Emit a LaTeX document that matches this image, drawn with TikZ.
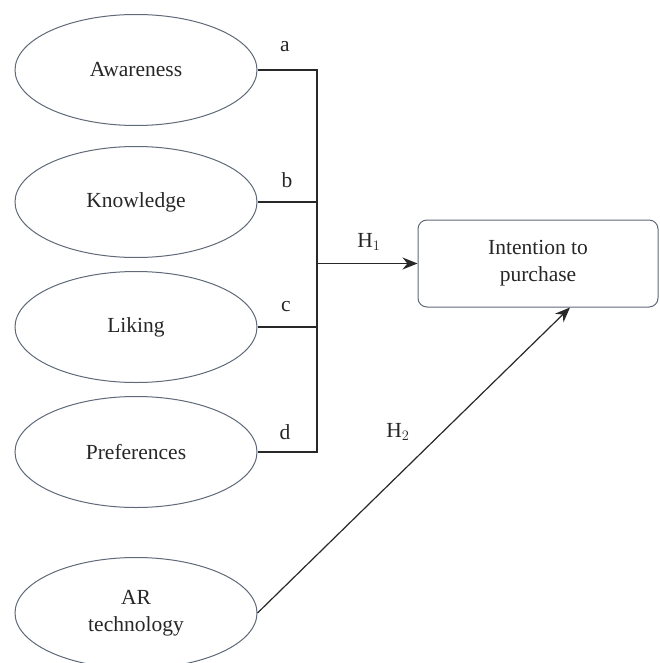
\documentclass[tikz,border=0pt]{standalone}
\usepackage{fontspec}
\setmainfont{Liberation Serif}
\usetikzlibrary{shapes.geometric,arrows.meta,calc}
\definecolor{edgec}{RGB}{95,105,120}
\definecolor{linec}{RGB}{40,40,40}
\begin{document}
\begin{tikzpicture}[x=1pt,y=-1pt,
  every node/.style={font=\fontsize{21.5}{27}\selectfont, text=black!85},
  oval/.style={ellipse, draw=edgec, line width=1pt, minimum width=242pt, minimum height=111pt, inner sep=0pt, align=center},
  target/.style={draw=edgec, line width=1pt, rounded corners=9pt, minimum width=240pt, minimum height=87pt, align=center},
  conn/.style={draw=linec, line width=1.2pt},
  arr/.style={conn, -{Stealth[length=15pt,width=12pt]}},
  lab/.style={font=\fontsize{21.5}{26}\selectfont}]
\useasboundingbox (0,0) rectangle (660,663);
\node[oval] (aw) at (136,70) {Awareness};
\node[oval] (kn) at (136,202) {Knowledge};
\node[oval] (li) at (136,327) {Liking};
\node[oval] (pr) at (136,452) {Preferences};
\node[oval] (ar) at (136,613) {AR\\technology};
\node[target] (box) at (538,263.5) {Intention to\\purchase};
\coordinate (j) at (317,263.5);
\draw[conn] (aw.east) -| (j);
\draw[conn] (kn.east) -| (j);
\draw[conn] (li.east) -| (j);
\draw[conn] (pr.east) -| (j);
\draw[arr] (j) -- (box.west);
\draw[arr] (ar.east) -- ([xshift=32pt]box.south);
\node[lab] (la) at (285,47) {a};
\node[lab] (lb) at (287,180) {b};
\node[lab] (lc) at (286,307) {c};
\node[lab] (ld) at (285,432) {d};
\node[lab] (h1) at (369,242) {H$_1$};
\node[lab] (h2) at (398,432) {H$_2$};
\end{tikzpicture}
\end{document}
